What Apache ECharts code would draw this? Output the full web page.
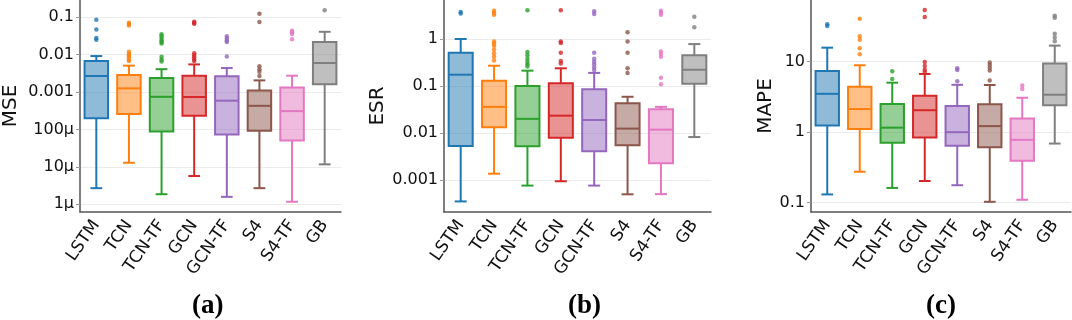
<!DOCTYPE html>
<html>
<head>
<meta charset="utf-8">
<script src="https://cdn.jsdelivr.net/npm/echarts@6/dist/echarts.min.js"></script>
<style>
  html, body { margin: 0; padding: 0; background: #fff; }
  #chart { width: 1072px; height: 320px; }
</style>
</head>
<body>
<div id="chart"></div>
<script>
const categories = ['LSTM', 'TCN', 'TCN-TF', 'GCN', 'GCN-TF', 'S4', 'S4-TF', 'GB'];
const colors = ['#1f77b4', '#ff7f0e', '#2ca02c', '#d62728', '#9467bd', '#8c564b', '#e377c2', '#7f7f7f'];

// each box: [lower whisker, q1, median, q3, upper whisker]
const mseBoxes = [
  [2.7e-6, 0.0002, 0.0027, 0.0068, 0.0092],
  [1.29e-5, 0.00026, 0.00126, 0.00286, 0.0051],
  [1.86e-6, 8.9e-5, 0.00075, 0.0024, 0.0041],
  [5.7e-6, 0.000234, 0.00074, 0.00275, 0.0055],
  [1.58e-6, 7.4e-5, 0.00059, 0.00264, 0.0044],
  [2.7e-6, 9.3e-5, 0.00043, 0.0011, 0.00206],
  [1.17e-6, 5.1e-5, 0.00031, 0.00132, 0.00275],
  [1.17e-5, 0.00163, 0.006, 0.0219, 0.041]
];
const mseOutliers = [
  [0.086, 0.047, 0.028, 0.025],
  [0.072, 0.066, 0.06, 0.012, 0.0105, 0.0095, 0.0085, 0.0075, 0.0068],
  [0.035, 0.031, 0.027, 0.024, 0.022, 0.02, 0.0088, 0.0075, 0.0066],
  [0.076, 0.071, 0.067, 0.011, 0.0095, 0.0085, 0.0075, 0.0068],
  [0.031, 0.027, 0.024, 0.022, 0.0089],
  [0.125, 0.075, 0.0049, 0.0041, 0.0035, 0.0027],
  [0.044, 0.04, 0.036, 0.026],
  [0.155]
];

const esrBoxes = [
  [0.00035, 0.0053, 0.174, 0.51, 1.0],
  [0.00136, 0.0132, 0.036, 0.13, 0.27],
  [0.00076, 0.0052, 0.02, 0.1, 0.212],
  [0.00094, 0.0079, 0.0234, 0.114, 0.238],
  [0.00076, 0.0041, 0.0189, 0.085, 0.19],
  [0.000496, 0.0055, 0.0124, 0.043, 0.059],
  [0.0005, 0.00226, 0.0118, 0.032, 0.036],
  [0.0082, 0.112, 0.222, 0.45, 0.78]
];
const esrOutliers = [
  [3.75, 3.5],
  [4.0, 3.6, 3.3, 0.88, 0.8, 0.72, 0.6, 0.5, 0.42, 0.35],
  [4.1, 0.53, 0.45, 0.38, 0.33, 0.29, 0.26],
  [4.1, 0.88, 0.82, 0.51, 0.34, 0.3],
  [3.9, 3.4, 0.51, 0.38, 0.33, 0.29, 0.25, 0.22],
  [1.39, 0.89, 0.51, 0.24, 0.19],
  [4.0, 3.6, 3.3, 0.54, 0.48, 0.42, 0.15, 0.109],
  [2.98, 1.77]
];

const mapeBoxes = [
  [0.131, 1.24, 3.5, 7.4, 15.8],
  [0.275, 1.11, 2.13, 4.4, 8.9],
  [0.162, 0.71, 1.16, 2.51, 5.04],
  [0.203, 0.84, 2.05, 3.3, 6.7],
  [0.177, 0.64, 1.0, 2.36, 4.7],
  [0.103, 0.61, 1.22, 2.49, 4.67],
  [0.11, 0.395, 0.78, 1.57, 3.08],
  [0.69, 2.41, 3.4, 9.4, 16.9]
];
const mapeOutliers = [
  [34, 32],
  [40.7, 23, 20.5, 15.5, 12.7],
  [7.3, 5.7],
  [54, 43, 9.9, 8.7, 7.7, 7.2],
  [8.1, 7.6, 5.3],
  [9.7, 9.0, 8.2, 7.5, 5.4],
  [4.6, 4.1],
  [45, 42, 25, 22, 19.5]
];

// tick exponents (powers of ten) and their labels
const mseTickExps = [-6, -5, -4, -3, -2, -1];
const mseTickLabels = ['1μ', '10μ', '100μ', '0.001', '0.01', '0.1'];
const esrTickExps = [-3, -2, -1, 0];
const esrTickLabels = ['0.001', '0.01', '0.1', '1'];
const mapeTickExps = [-1, 0, 1];
const mapeTickLabels = ['0.1', '1', '10'];

const panels = [
  { name: 'MSE', boxes: mseBoxes, outliers: mseOutliers, exps: mseTickExps, labels: mseTickLabels,
    min: Math.pow(10, -6.206), max: Math.pow(10, -0.537), left: 76, width: 265, nameGap: 59, tag: '(a)', tagX: 209 },
  { name: 'ESR', boxes: esrBoxes, outliers: esrOutliers, exps: esrTickExps, labels: esrTickLabels,
    min: Math.pow(10, -3.681), max: Math.pow(10, 0.83), left: 444, width: 267, nameGap: 55, tag: '(b)', tagX: 585 },
  { name: 'MAPE', boxes: mapeBoxes, outliers: mapeOutliers, exps: mapeTickExps, labels: mapeTickLabels,
    min: Math.pow(10, -1.132), max: Math.pow(10, 1.875), left: 811, width: 260, nameGap: 35, tag: '(c)', tagX: 943 }
];

const axisColor = '#555';
const font = 'DejaVu Sans';

function renderBox(params, api) {
  const i = api.value(0);
  const c = colors[i];
  const x = api.coord([i, 1])[0];
  const w = api.size([1, 1])[0] * 0.72;
  const yMin = api.coord([i, api.value(1)])[1];
  const yQ1 = api.coord([i, api.value(2)])[1];
  const yMed = api.coord([i, api.value(3)])[1];
  const yQ3 = api.coord([i, api.value(4)])[1];
  const yMax = api.coord([i, api.value(5)])[1];
  const ls = { stroke: c, lineWidth: 2 };
  const cap = w / 4;
  return {
    type: 'group',
    children: [
      { type: 'line', shape: { x1: x, y1: yQ1, x2: x, y2: yMin }, style: ls },
      { type: 'line', shape: { x1: x, y1: yQ3, x2: x, y2: yMax }, style: ls },
      { type: 'line', shape: { x1: x - cap, y1: yMin, x2: x + cap, y2: yMin }, style: ls },
      { type: 'line', shape: { x1: x - cap, y1: yMax, x2: x + cap, y2: yMax }, style: ls },
      { type: 'rect', shape: { x: x - w / 2, y: yQ3, width: w, height: yQ1 - yQ3 },
        style: { fill: echarts.color.modifyAlpha(c, 0.5), stroke: c, lineWidth: 2 } },
      { type: 'line', shape: { x1: x - w / 2, y1: yMed, x2: x + w / 2, y2: yMed }, style: ls }
    ]
  };
}

const grid = [], xAxis = [], yAxis = [], series = [], graphic = [];
panels.forEach((p, k) => {
  grid.push({ left: p.left, width: p.width, top: 0, height: 212 });
  xAxis.push({
    type: 'category', gridIndex: k, data: categories,
    axisLine: { lineStyle: { color: axisColor, width: 1.5 } },
    axisTick: { alignWithLabel: true, length: 5, lineStyle: { color: axisColor } },
    axisLabel: { rotate: 55, margin: 10, fontSize: 17, fontFamily: font, color: '#111' }
  });
  yAxis.push({
    type: 'log', gridIndex: k, min: p.min, max: p.max,
    name: p.name, nameLocation: 'middle', nameGap: p.nameGap,
    nameTextStyle: { fontSize: 20, fontFamily: font, color: '#111' },
    axisLine: { show: true, lineStyle: { color: axisColor, width: 1.5 } },
    axisTick: { show: true, length: 4, lineStyle: { color: '#999' } },
    axisLabel: {
      margin: 6, fontSize: 16, fontFamily: font, color: '#111',
      showMinLabel: false, showMaxLabel: false,
      formatter: v => {
        const j = p.exps.indexOf(Math.round(Math.log10(v)));
        return j >= 0 ? p.labels[j] : '';
      }
    },
    splitLine: { show: true, showMinLine: false, showMaxLine: false, lineStyle: { color: '#ebebeb', width: 1 } }
  });
  series.push({
    type: 'custom', xAxisIndex: k, yAxisIndex: k,
    renderItem: renderBox,
    encode: { x: 0, y: [1, 2, 3, 4, 5] },
    data: p.boxes.map((b, i) => [i].concat(b)),
    z: 2
  });
  const pts = [];
  p.outliers.forEach((list, i) => list.forEach(v => pts.push({ value: [i, v], itemStyle: { color: colors[i] } })));
  series.push({
    type: 'scatter', xAxisIndex: k, yAxisIndex: k,
    symbolSize: 4.5, data: pts, z: 3
  });
  graphic.push({
    type: 'text', left: p.tagX - 17, top: 293,
    style: { text: p.tag, font: 'bold 27px "Liberation Serif"', fill: '#000' }
  });
});

const chart = echarts.init(document.getElementById('chart'));
chart.setOption({
  animation: false,
  grid, xAxis, yAxis, series, graphic
});
</script>
</body>
</html>
